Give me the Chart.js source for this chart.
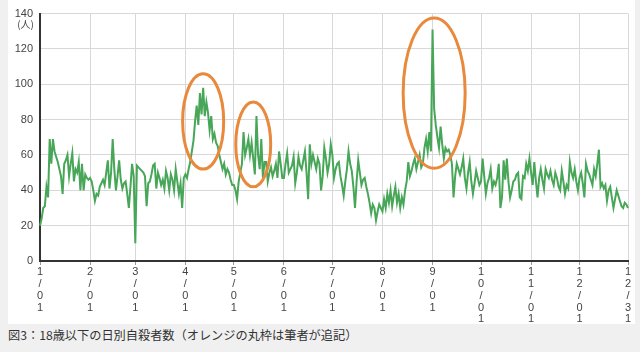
<!DOCTYPE html>
<html>
<head>
<meta charset="utf-8">
<script src="https://cdn.jsdelivr.net/npm/chart.js@4.4.1/dist/chart.umd.min.js"></script>
<style>
  html, body { margin: 0; padding: 0; background: #f0f0f0; }
  body { width: 640px; height: 352px; position: relative; overflow: hidden; }
  #panel { position: absolute; left: 8px; top: 0; width: 627px; height: 324px; background: #fff; }
  #wrap { position: absolute; left: 0; top: 0; width: 640px; height: 324px; }
  #caption { position: absolute; left: 8px; top: 326px; font-family: "Noto Sans CJK JP", sans-serif; font-size: 12.2px; color: #333; }
</style>
</head>
<body>
<div id="panel"></div>
<div id="wrap"><canvas id="chart"></canvas></div>
<div id="caption">図3：18歳以下の日別自殺者数（オレンジの丸枠は筆者が追記）</div>

<script>
/* ================= DATA ================= */
const monthLengths = [31, 28, 31, 30, 31, 30, 31, 31, 30, 31, 30, 31];
const yTicks = [0, 20, 40, 60, 80, 100, 120, 140];

const jan = [20, 24, 30, 31, 42, 36, 69, 55, 69, 62, 59, 56, 52, 48, 38, 55, 57, 60, 48, 55, 61, 45, 52, 50, 56, 40, 55, 40, 49, 47, 46];
const feb = [47, 45, 40, 34, 38, 37, 42, 44, 46, 43, 50, 57, 41, 50, 69, 52, 40, 48, 57, 46, 41, 44, 45, 38, 30, 42, 55, 48];
const mar = [10, 54, 53, 52, 51, 50, 48, 31, 44, 45, 49, 54, 55, 41, 50, 47, 43, 46, 41, 51, 47, 40, 49, 46, 40, 52, 45, 38, 44, 30, 47];
const apr = [49, 47, 52, 56, 62, 68, 79, 88, 77, 95, 83, 98, 82, 90, 84, 74, 82, 69, 72, 67, 65, 60, 56, 52, 55, 49, 52, 50, 46, 43];
const may = [43, 40, 35, 45, 50, 55, 73, 60, 64, 69, 60, 67, 58, 49, 82, 60, 52, 69, 47, 56, 56, 45, 50, 53, 48, 51, 55, 47, 62, 55, 47];
const jun = [47, 55, 61, 50, 52, 54, 59, 44, 50, 59, 54, 52, 57, 62, 50, 35, 66, 55, 60, 56, 52, 58, 55, 40, 48, 64, 58, 50, 55, 66];
const jul = [60, 47, 52, 55, 56, 48, 43, 37, 45, 52, 62, 55, 51, 42, 30, 45, 57, 50, 43, 46, 47, 42, 38, 33, 27, 32, 30, 23, 28, 32, 30];
const aug = [28, 35, 30, 38, 33, 40, 31, 37, 42, 33, 38, 30, 36, 32, 40, 45, 56, 48, 51, 55, 58, 52, 56, 60, 53, 55, 64, 69, 62, 73, 62];
const sep = [131, 86, 77, 70, 64, 76, 66, 58, 64, 62, 63, 60, 55, 36, 48, 55, 52, 49, 53, 58, 47, 41, 50, 56, 45, 38, 44, 51, 47, 43];
const oct = [45, 58, 48, 38, 44, 47, 52, 41, 45, 43, 47, 55, 30, 36, 57, 46, 58, 45, 36, 40, 45, 46, 49, 50, 36, 35, 48, 47, 55, 51, 58];
const nov = [50, 43, 56, 45, 36, 47, 52, 46, 41, 52, 49, 47, 51, 46, 43, 50, 47, 42, 40, 51, 45, 38, 43, 41, 56, 50, 47, 52, 45, 40];
const dec = [47, 50, 44, 36, 55, 51, 49, 46, 43, 52, 48, 55, 63, 42, 44, 41, 43, 34, 40, 42, 36, 30, 35, 40, 37, 34, 31, 30, 33, 32, 30];

// orange circles added by the author (day index, value, half-width in days, half-height in people)
const ovals = [
    { day: 101, value: 79, rx: 12.7, ry: 27 },
    { day: 132, value: 66, rx: 10.8, ry: 24 },
    { day: 244, value: 95, rx: 19.2, ry: 42.5 }
];

/* ================= BUILD ================= */
const values = [].concat(jan, feb, mar, apr, may, jun, jul, aug, sep, oct, nov, dec);

const dayLabels = [];
monthLengths.forEach((len, m) => {
    for (let d = 1; d <= len; d++) dayLabels.push(`${m + 1}/${String(d).padStart(2, "0")}`);
});

function tickText(i) {
    const lbl = dayLabels[i];
    if (lbl.endsWith("/01") || i === dayLabels.length - 1) return lbl.split("");
    return null;
}

const ovalPlugin = {
    id: "ovals",
    afterDatasetsDraw(chart) {
        const { ctx, scales: { x, y } } = chart;
        ctx.save();
        ctx.strokeStyle = "#e8893c";
        ctx.lineWidth = 3;
        ovals.forEach(o => {
            const cx = x.getPixelForValue(o.day);
            const cy = y.getPixelForValue(o.value);
            const rx = Math.abs(x.getPixelForValue(o.day + o.rx) - cx);
            const ry = Math.abs(y.getPixelForValue(o.value + o.ry) - cy);
            ctx.beginPath();
            ctx.ellipse(cx, cy, rx, ry, 0, 0, Math.PI * 2);
            ctx.stroke();
        });
        // unit under the top tick
        ctx.fillStyle = "#444";
        ctx.font = '10px "Noto Sans CJK JP", sans-serif';
        ctx.textAlign = "right";
        ctx.textBaseline = "middle";
        ctx.fillText("(人)", y.right - 6, y.getPixelForValue(140) + 11);
        ctx.restore();
    }
};

new Chart(document.getElementById("chart").getContext("2d"), {
    type: "line",
    data: {
        labels: dayLabels,
        datasets: [{
            data: values,
            borderColor: "#47a658",
            borderWidth: 2,
            pointRadius: 0,
            tension: 0,
            fill: false
        }]
    },
    options: {
        responsive: true,
        maintainAspectRatio: false,
        animation: false,
        layout: { padding: { left: 8, top: 10, right: 12, bottom: 0 } },
        plugins: { legend: { display: false }, tooltip: { enabled: false } },
        scales: {
            x: {
                afterFit: s => { s.height = 63; },
                grid: { color: "#d8d8d8", lineWidth: 1, tickLength: 4, tickColor: "#999" },
                border: { color: "#333", width: 2 },
                ticks: {
                    autoSkip: false,
                    maxRotation: 0,
                    padding: 1,
                    color: "#444",
                    font: { family: "'Liberation Sans', Arial, sans-serif", size: 11, lineHeight: 1.08 },
                    callback: (v, i) => tickText(i)
                }
            },
            y: {
                min: 0,
                max: 140,
                afterFit: s => { s.width = 32; },
                afterBuildTicks: s => { s.ticks = yTicks.map(v => ({ value: v })); },
                grid: { color: "#d8d8d8", lineWidth: 1, drawTicks: false },
                border: { color: "#333", width: 2 },
                ticks: {
                    padding: 7,
                    color: "#444",
                    font: { family: "'Liberation Sans', Arial, sans-serif", size: 11 }
                }
            }
        }
    },
    plugins: [ovalPlugin]
});
</script>
</body>
</html>
